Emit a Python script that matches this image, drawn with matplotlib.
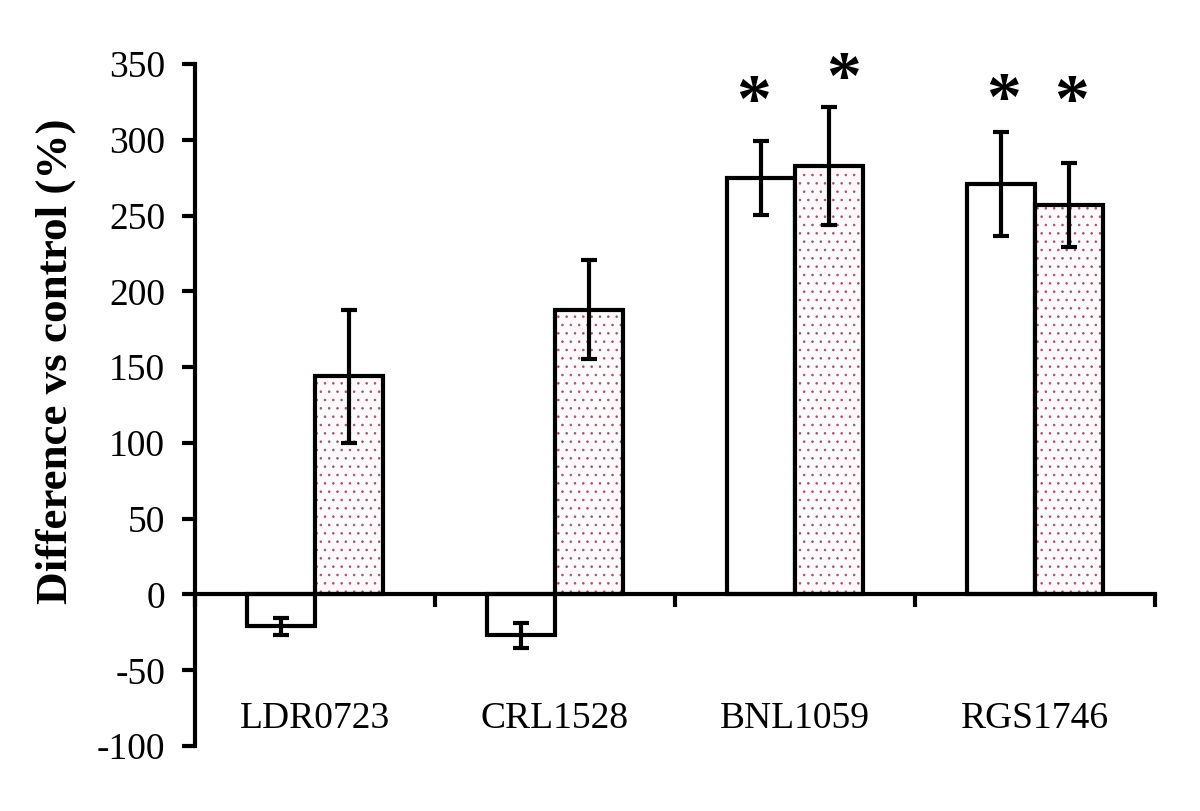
import matplotlib
matplotlib.use("Agg")
import matplotlib.pyplot as plt
import numpy as np

categories = ["LDR0723", "CRL1528", "BNL1059", "RGS1746"]
white_vals = [-21, -27, 275, 271]
white_err = [5.6, 8, 24.5, 34.5]
pink_vals = [144, 188, 283, 257]
pink_err = [44, 32.5, 39, 28]
yticks = [-100, -50, 0, 50, 100, 150, 200, 250, 300, 350]

# significance asterisk positions (x in category units, y in data units)
star_x = [2.325, 2.704, 3.367, 3.654]
star_y = [332, 347, 333.5, 332]

plt.rcParams['font.family'] = ['Liberation Serif', 'DejaVu Serif']
plt.rcParams['hatch.linewidth'] = 0.6

fig = plt.figure(figsize=(12, 8.11), dpi=100)
ax = fig.add_axes([0.1625, 0.0801, 0.8, 0.8409])

x = np.arange(len(categories)) + 0.5
w = 0.285
lw = 3.0
xw = x - w / 2
xp = x + w / 2

ax.bar(xw, white_vals, width=w, color='white', edgecolor='black', linewidth=lw, zorder=2)
ax.bar(xp, pink_vals, width=w, color='#fefafc', edgecolor='#a05078', linewidth=0,
       hatch='..', zorder=2)
ax.bar(xp, pink_vals, width=w, fill=False, edgecolor='black', linewidth=lw, zorder=3)

ax.errorbar(xw, white_vals, yerr=white_err, fmt='none', ecolor='black', elinewidth=lw,
            capsize=6, capthick=lw, zorder=4)
ax.errorbar(xp, pink_vals, yerr=pink_err, fmt='none', ecolor='black', elinewidth=lw,
            capsize=6, capthick=lw, zorder=4)

for sx, sy in zip(star_x, star_y):
    ax.text(sx, sy - 9, "*", ha='center', va='center', fontsize=50, fontweight='bold')

for xi, lab in zip(x, categories):
    ax.text(xi, -82, lab, ha='center', va='center', fontsize=27)

ax.set_xlim(0, 4)
ax.set_ylim(-100, 350)
ax.set_yticks(yticks)
ax.set_yticklabels([str(t) for t in yticks], fontsize=27)
ax.set_xticks([0, 1, 2, 3, 4])
ax.set_xticklabels([])
ax.spines['top'].set_visible(False)
ax.spines['right'].set_visible(False)
ax.spines['bottom'].set_position(('data', 0))
ax.spines['left'].set_linewidth(lw)
ax.spines['bottom'].set_linewidth(lw)
ax.spines['left'].set_zorder(5)
ax.spines['bottom'].set_zorder(5)
ax.tick_params(axis='y', direction='out', length=9.5, width=lw, pad=12)
ax.tick_params(axis='x', direction='out', length=9, width=lw)
fig.text(56 / 1200, 0.555, "Difference vs control (%)", rotation=90, ha='center',
         va='center', fontsize=32.5, fontweight='bold')

fig.savefig("out.png", dpi=100)
